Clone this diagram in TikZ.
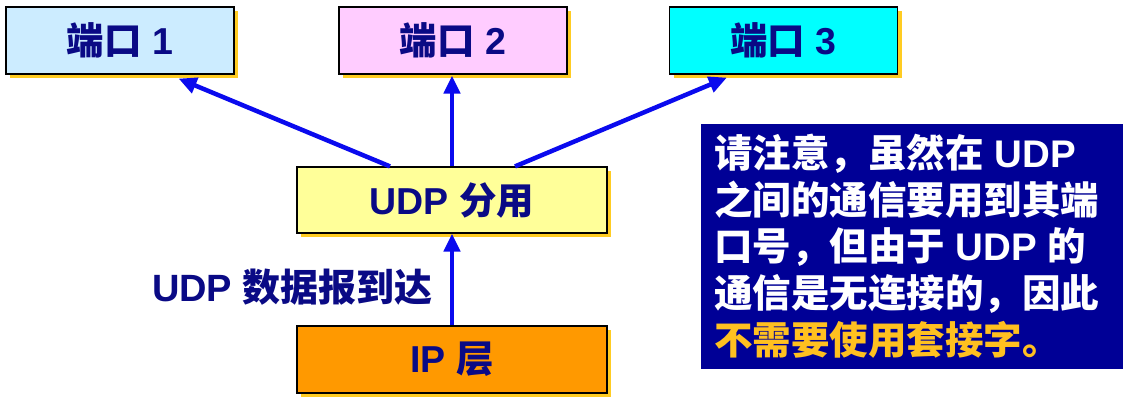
\documentclass[tikz,border=0pt]{standalone}
\usepackage{fontspec}
\setmainfont{Liberation Sans}
\newfontfamily\cjk{Noto Sans CJK SC}
\usetikzlibrary{arrows.meta,shadows}
\newcommand\zh[1]{{\cjk\bfseries #1}}
\definecolor{navytext}{HTML}{0A0A85}
\definecolor{notebg}{HTML}{000096}
\definecolor{arrowblue}{HTML}{0A0AEE}
\definecolor{shadowyel}{HTML}{FFCC22}
\definecolor{portA}{HTML}{CCECFF}
\definecolor{portB}{HTML}{FFCCFF}
\definecolor{portC}{HTML}{00FFFF}
\definecolor{udpfill}{HTML}{FFFF99}
\definecolor{ipfill}{HTML}{FF9900}
\definecolor{hilite}{HTML}{FFC020}
\begin{document}
\begin{tikzpicture}[x=1pt,y=-1pt,
  box/.style={draw=black,line width=1.2pt,rectangle,inner sep=0pt,
    font=\fontsize{37.5}{40}\selectfont\bfseries,text=navytext,
    drop shadow={fill=shadowyel,opacity=1,shadow xshift=4pt,shadow yshift=-4pt}},
  portbox/.style={box,minimum width=228pt,minimum height=67pt},
  widebox/.style={box,minimum width=310pt,minimum height=66pt},
  arr/.style={draw=arrowblue,line width=4.5pt,-{Triangle[length=18pt,width=16pt]}},
  noteline/.style={anchor=base west,inner sep=0pt,text=white,font=\fontsize{38.5}{40}\selectfont\bfseries}
]
\useasboundingbox (0,0) rectangle (1129,403);
\fill[white] (0,0) rectangle (1129,403);

\node[portbox,fill=portA] (p1) at (120,40.5) {\zh{端口} 1};
\node[portbox,fill=portB] (p2) at (453,40.5) {\zh{端口} 2};
\node[portbox,fill=portC] (p3) at (783.5,40.5) {\zh{端口} 3};
\node[widebox,fill=udpfill] (udp) at (452,200) {UDP \zh{分用}};
\node[widebox,fill=ipfill,minimum height=67pt] (ip) at (452,359.5) {IP \zh{层}};

\draw[arr] ([xshift=-62pt]udp.north) -- ([xshift=-56pt,yshift=-4pt]p1.south east);
\draw[arr] (udp.north) -- ([yshift=-1pt]udp.north |- p2.south);
\draw[arr] ([xshift=63pt]udp.north) -- ([xshift=58pt,yshift=-3pt]p3.south west);
\draw[arr] (ip.north) -- (udp.south);

\node[anchor=base east,inner sep=0pt,text=navytext,font=\fontsize{38}{40}\selectfont\bfseries] (lbl) at (433,301) {UDP \zh{数据报到达}};

\node[fill=notebg,minimum width=422pt,minimum height=245pt,inner sep=0pt] (note) at (912,246.5) {};
\node[noteline] (l1) at (714,168) {\zh{请注意，虽然在} UDP};
\node[noteline] (l2) at (714,214.5) {\zh{之间的通信要用到其端}};
\node[noteline] (l3) at (714,261) {\zh{口号，但由于} UDP \zh{的}};
\node[noteline] (l4) at (714,307.5) {\zh{通信是无连接的，因此}};
\node[noteline,text=hilite] (l5) at (714,354) {\zh{不需要使用套接字。}};
\end{tikzpicture}
\end{document}
